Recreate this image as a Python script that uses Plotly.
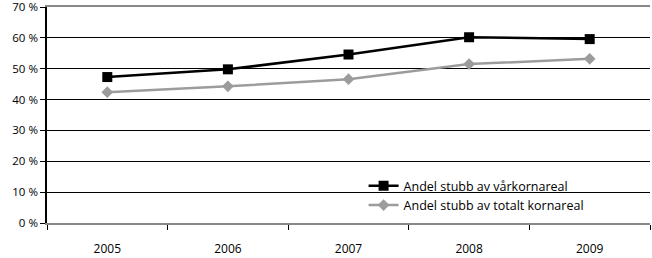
import plotly.graph_objects as go

years = ["2005", "2006", "2007", "2008", "2009"]
var_korn = [47.3, 49.8, 54.6, 60.2, 59.6]
totalt_korn = [42.4, 44.3, 46.6, 51.5, 53.2]
y_ticks = [0, 10, 20, 30, 40, 50, 60, 70]

font = "Open Sans"
fig = go.Figure()
fig.add_trace(go.Scatter(x=years, y=var_korn, name="Andel stubb av vårkornareal",
                         mode="lines+markers",
                         line=dict(color="black", width=2.5),
                         marker=dict(symbol="square", size=10, color="black")))
fig.add_trace(go.Scatter(x=years, y=totalt_korn, name="Andel stubb av totalt kornareal",
                         mode="lines+markers",
                         line=dict(color="#9c9c9c", width=2.5),
                         marker=dict(symbol="diamond", size=9, color="#9c9c9c")))

fig.update_layout(
    width=652, height=258,
    margin=dict(l=47, r=2, t=7, b=35),
    paper_bgcolor="white", plot_bgcolor="white",
    font=dict(family=font, size=12, color="black"),
    legend=dict(x=0.525, y=0.24, xanchor="left", yanchor="top",
                bgcolor="rgba(0,0,0,0)", font=dict(size=12.5),
                tracegroupgap=0, itemwidth=30),
    showlegend=True,
)
fig.update_xaxes(type="category", range=[-0.5, 4.5], tickson="boundaries",
                 ticks="outside", ticklen=5, ticklabelstandoff=14, automargin=False,
                 tickcolor="black", showline=True, linecolor="#888888", linewidth=1.5,
                 mirror=True, showgrid=False, tickfont=dict(size=12))
fig.update_yaxes(range=[0, 70], tickvals=y_ticks, ticktext=[f"{v} %" for v in y_ticks],
                 ticks="outside", ticklen=5, tickcolor="black", ticklabeloverflow="allow",
                 automargin=False,
                 showline=True, linecolor="black", linewidth=1.5,
                 showgrid=True, gridcolor="black", gridwidth=1, zeroline=False,
                 tickfont=dict(size=11.5))
fig.write_html("out.html")
